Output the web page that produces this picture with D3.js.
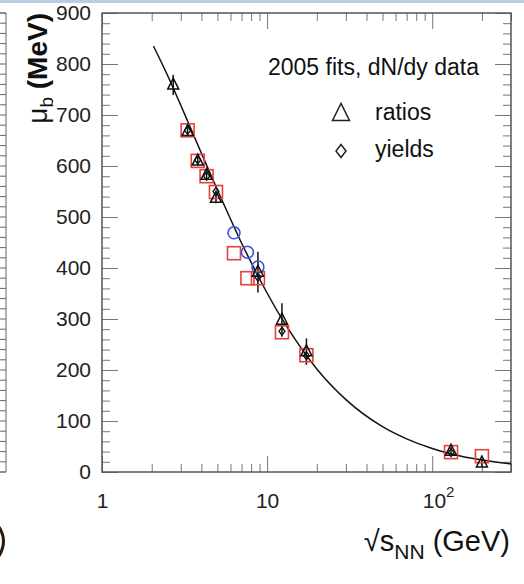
<!DOCTYPE html>
<html>
<head>
<meta charset="utf-8">
<script src="https://cdn.jsdelivr.net/npm/d3@7"></script>
<style>
body { margin: 0; background: #fff; }
svg { display: block; font-family: "Liberation Sans", Arial, sans-serif; }
</style>
</head>
<body>
<svg id="chart" width="524" height="584"></svg>
<script>
// ratios fits (triangles)
var ratioE = [2.7, 3.3, 3.8, 4.3, 4.9, 8.8, 12.3, 17.3, 130, 200]
var ratioMu = [759, 668, 610, 582, 537, 392, 298, 236, 41, 18]
var ratioErr = [20, 10, 10, 10, 10, 40, 33, 26, 8, 8]

// yields fits (diamonds)
var yieldE = [3.3, 3.8, 4.3, 4.9, 8.8, 12.3, 17.3, 130]
var yieldMu = [670, 612, 580, 550, 382, 276, 228, 38]

// red squares
var sqE = [3.3, 3.8, 4.3, 4.9, 6.3, 7.6, 8.8, 12.3, 17.3, 130, 200]
var sqMu = [670, 610, 580, 549, 429, 380, 380, 274, 229, 39, 31]

// blue circles
var circE = [6.3, 7.6, 8.8]
var circMu = [469, 431, 402]

// fit curve
var curveE = [2.05, 2.5, 3, 4, 5, 6, 7, 8, 10, 12, 15, 20, 30, 50, 70, 100, 150, 200, 300]
var curveMu = [835, 777, 719, 625, 553, 496, 449, 411, 351, 306, 257, 202, 142, 89, 65, 46, 31, 23.5, 15.8]

var yTicks = [0, 100, 200, 300, 400, 500, 600, 700, 800, 900]
var xMajor = [1, 10, 100]

var svg = d3.select("#chart")

var x = d3.scaleLog().domain([1, 300]).range([102, 511])
var y = d3.scaleLinear().domain([0, 900]).range([472, 13])

var red = "#e8403a"
var blue = "#3a55e6"

// bits of the neighbouring picture
svg.append("rect").attr("x", 0).attr("y", 0).attr("width", 524).attr("height", 3).attr("fill", "#b9cde5")

var leftStrip = svg.append("g").attr("stroke", "#666").attr("stroke-width", 1)
leftStrip.append("path").attr("fill", "none")
.attr("d", "M0," + y(900) + "H6V" + y(0) + "H0")
leftStrip.selectAll("line").data(y.ticks(45)).enter().append("line")
.attr("x1", 0).attr("x2", 6)
.attr("y1", d => y(d)).attr("y2", d => y(d))

// edge of a bracket from the next panel
svg.append("path").attr("d", "M-1,527Q8,541 -1,556")
.attr("fill", "none").attr("stroke", "#2a1a10").attr("stroke-width", 3)

// axes, ticks pointing in
var minorX = x.ticks().filter(d => xMajor.indexOf(d) < 0)
var minorY = y.ticks(45).filter(d => d % 100 != 0)

var axes = svg.append("g").attr("class", "axes")

axes.append("g").attr("transform", "translate(0," + y(0) + ")")
.call(d3.axisBottom(x).tickValues(minorX).tickSize(-8).tickFormat(""))
axes.append("g").attr("transform", "translate(0," + y(900) + ")")
.call(d3.axisTop(x).tickValues(minorX).tickSize(-8).tickFormat(""))
axes.append("g").attr("transform", "translate(0," + y(900) + ")")
.call(d3.axisTop(x).tickValues(xMajor).tickSize(-16).tickFormat(""))
axes.append("g").attr("transform", "translate(" + x(1) + ",0)")
.call(d3.axisLeft(y).tickValues(minorY).tickSize(-8).tickFormat(""))
axes.append("g").attr("transform", "translate(" + x(300) + ",0)")
.call(d3.axisRight(y).tickValues(minorY).tickSize(-8).tickFormat(""))
axes.append("g").attr("transform", "translate(" + x(300) + ",0)")
.call(d3.axisRight(y).tickValues(yTicks).tickSize(-16).tickFormat(""))

var yAxis = axes.append("g").attr("transform", "translate(" + x(1) + ",0)")
.call(d3.axisLeft(y).tickValues(yTicks).tickSize(-16).tickPadding(11))

var xAxis = axes.append("g").attr("transform", "translate(0," + y(0) + ")")
.call(d3.axisBottom(x).tickValues(xMajor).tickSize(-16).tickPadding(21).tickFormat(d => d == 100 ? "" : d))

axes.selectAll(".domain").remove()
axes.selectAll(".tick line").attr("stroke", "#777").attr("stroke-width", 1)
axes.selectAll(".tick text").attr("font-size", 21).attr("fill", "#222")
.attr("font-family", "Liberation Sans, Arial, sans-serif")

// 10^2 label
var hundred = xAxis.selectAll(".tick").filter(d => d == 100).select("text")
.attr("text-anchor", "start").attr("x", -10)
hundred.append("tspan").text("10")
hundred.append("tspan").attr("font-size", 15).attr("dy", "-0.75em").text("2")

svg.append("rect")
.attr("x", x(1)).attr("y", y(900))
.attr("width", x(300) - x(1)).attr("height", y(0) - y(900))
.attr("fill", "none").attr("stroke", "#555").attr("stroke-width", 1.5)

// axis titles
var xt = svg.append("text").attr("x", 510).attr("y", 551)
.attr("text-anchor", "end").attr("font-size", 29).attr("fill", "#111")
xt.append("tspan").text("\u221As")
xt.append("tspan").attr("font-size", 21).attr("dy", 8).text("NN")
xt.append("tspan").attr("dy", -8).text(" (GeV)")

var yt = svg.append("text").attr("transform", "translate(47," + y(900) + ") rotate(-90)")
.attr("text-anchor", "end").attr("font-size", 28).attr("fill", "#111").attr("font-weight", "bold")
yt.append("tspan").attr("font-weight", "normal").text("\u03BC")
yt.append("tspan").attr("font-size", 19).attr("font-weight", "normal").attr("dy", 6).text("b")
yt.append("tspan").attr("dy", -6).text(" (MeV)")

// fit curve
var line = d3.line()
.x(d => x(d[0])).y(d => y(d[1]))
.curve(d3.curveMonotoneX)

svg.append("path")
.datum(d3.zip(curveE, curveMu))
.attr("d", line)
.attr("fill", "none").attr("stroke", "#111").attr("stroke-width", 1.5)

var plot = svg.append("g")

// error bars for ratios
plot.selectAll(".err").data(d3.zip(ratioE, ratioMu, ratioErr)).enter().append("line")
.attr("class", "err")
.attr("x1", d => x(d[0])).attr("x2", d => x(d[0]))
.attr("y1", d => y(d[1] + d[2])).attr("y2", d => y(d[1] - d[2]))
.attr("stroke", "#111").attr("stroke-width", 1.5)

var triangle = function(s) {
return "M0," + (-s * 0.62) + "L" + (s / 2) + "," + (s * 0.38) + "L" + (-s / 2) + "," + (s * 0.38) + "Z"
}
var diamond = function(w, h) {
return "M0," + (-h / 2) + "L" + (w / 2) + ",0L0," + (h / 2) + "L" + (-w / 2) + ",0Z"
}

plot.selectAll(".sq").data(d3.zip(sqE, sqMu)).enter().append("rect")
.attr("class", "sq")
.attr("x", d => x(d[0]) - 6.5).attr("y", d => y(d[1]) - 6.5)
.attr("width", 13).attr("height", 13)
.attr("fill", "none").attr("stroke", red).attr("stroke-width", 1.6)

plot.selectAll(".circ").data(d3.zip(circE, circMu)).enter().append("circle")
.attr("class", "circ")
.attr("cx", d => x(d[0])).attr("cy", d => y(d[1])).attr("r", 6)
.attr("fill", "none").attr("stroke", blue).attr("stroke-width", 1.6)

plot.selectAll(".tri").data(d3.zip(ratioE, ratioMu)).enter().append("path")
.attr("class", "tri")
.attr("transform", d => "translate(" + x(d[0]) + "," + y(d[1]) + ")")
.attr("d", triangle(11))
.attr("fill", "none").attr("stroke", "#111").attr("stroke-width", 1.5)

plot.selectAll(".dia").data(d3.zip(yieldE, yieldMu)).enter().append("path")
.attr("class", "dia")
.attr("transform", d => "translate(" + x(d[0]) + "," + y(d[1]) + ")")
.attr("d", diamond(6, 8))
.attr("fill", "none").attr("stroke", "#111").attr("stroke-width", 1.3)

// legend
var legend = svg.append("g").attr("font-size", 23).attr("fill", "#111")
legend.append("text").attr("x", 268).attr("y", 75).text("2005 fits, dN/dy data")
legend.append("path").attr("transform", "translate(341,114)").attr("d", triangle(17))
.attr("fill", "none").attr("stroke", "#222").attr("stroke-width", 1.5)
legend.append("text").attr("x", 375).attr("y", 120).text("ratios")
legend.append("path").attr("transform", "translate(341,151)").attr("d", diamond(10, 13))
.attr("fill", "none").attr("stroke", "#222").attr("stroke-width", 1.5)
legend.append("text").attr("x", 375).attr("y", 157).text("yields")
</script>
</body>
</html>
